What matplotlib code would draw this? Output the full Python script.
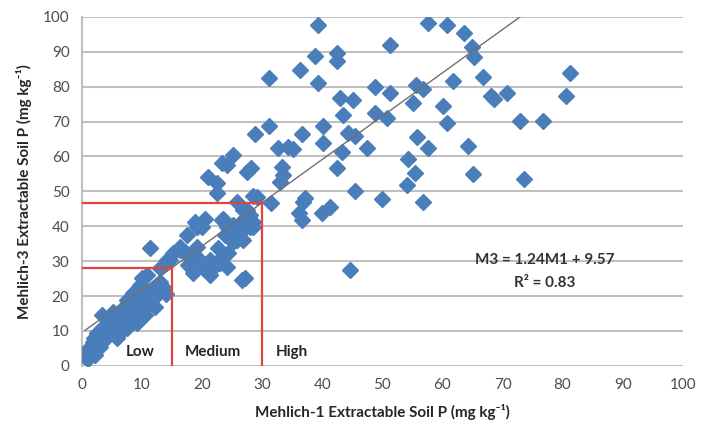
import matplotlib
matplotlib.use("Agg")
import matplotlib.pyplot as plt
import numpy as np

plt.rcParams['font.family'] = ['Lato', 'DejaVu Sans']

# Mehlich-1 (x) vs Mehlich-3 (y), mg/kg
m1 = [39.3, 38.8, 42.4, 42.4, 36.3, 31.1, 39.3, 42.9, 45.1, 48.8, 51.2, 43.4, 48.8, 50.7,
      31.1, 28.8, 36.6, 40.1, 44.3, 45.4, 32.6, 34.3, 35.1, 40.1, 43.3, 47.4, 42.4, 45.4,
      25.1, 23.3, 24.1, 27.5, 28.1, 33.3, 32.9, 33.4, 21.0, 22.5, 22.5, 49.9, 37.1, 36.8,
      31.4, 36.1, 36.6, 39.9, 41.3, 28.5, 27.5, 28.0, 25.8, 29.1, 44.6,
      55.6, 56.7, 51.2, 61.7, 66.7, 68.1, 68.6, 70.7, 55.1, 60.1, 60.7, 72.9, 76.7, 55.7,
      57.6, 64.2, 54.2, 55.4, 54.1, 65.1, 73.5, 56.7, 57.6, 60.7, 63.6, 64.9, 65.2, 81.2, 80.5,
      18.8, 20.5, 20.0, 23.5, 25.1, 26.8, 28.0, 27.1, 28.5, 11.3, 16.3, 14.6, 17.5, 19.1,
      17.6, 20.1, 21.3, 22.6, 24.3, 24.1, 25.8, 24.6, 23.3, 26.6, 26.8, 27.6, 28.5, 23.3,
      19.1, 24.1, 26.3, 26.8, 25.1, 23.8, 17.5, 16.3, 15.1, 14.1, 17.1, 19.1, 21.3, 21.8,
      23.0, 18.5, 27.1, 13.5,
      13.0, 10.8, 9.7, 11.6, 12.5, 13.5, 8.5, 7.5, 9.2, 10.0, 6.8, 5.2, 3.3, 4.3, 6.0, 3.5,
      2.5, 4.2, 5.2, 1.8, 3.0, 1.0, 0.5, 2.2, 6.8, 5.8, 13.0, 11.8, 10.0, 8.8, 7.7, 8.3,
      6.3, 5.8, 4.2, 3.0, 1.3, 0.8, 1.5, 2.5, 3.5, 4.5, 7.0, 8.0, 9.5, 11.0, 12.0, 14.0,
      2.0, 1.0, 6.0, 7.5, 9.2, 11.3, 10.5, 12.2]
m3 = [97.7, 88.8, 89.7, 87.4, 84.8, 82.5, 81.0, 76.8, 76.2, 80.0, 92.0, 71.9, 72.5, 71.0,
      68.8, 66.5, 66.5, 68.8, 66.8, 65.9, 62.5, 62.8, 62.2, 63.9, 61.3, 62.5, 56.7, 50.0,
      60.5, 58.0, 57.6, 55.6, 56.7, 57.0, 52.7, 54.7, 54.2, 52.4, 49.6, 47.8, 48.0, 47.0,
      46.7, 43.8, 41.8, 43.8, 45.6, 48.7, 44.7, 39.8, 47.0, 48.4, 27.5,
      80.5, 79.4, 78.2, 81.7, 82.8, 77.4, 76.5, 78.2, 75.4, 74.5, 69.6, 70.2, 70.2, 65.6,
      62.5, 63.0, 59.3, 55.3, 51.9, 55.0, 53.6, 47.0, 98.3, 97.7, 95.4, 91.4, 88.5, 84.0, 77.4,
      41.3, 42.1, 39.8, 42.1, 40.4, 41.8, 43.3, 39.5, 39.8, 33.8, 33.2, 30.4, 31.8, 34.1,
      28.9, 28.1, 26.1, 33.8, 32.4, 28.4, 36.1, 36.5, 31.2, 24.6, 44.7, 43.3, 41.3, 41.8,
      39.8, 39.8, 38.4, 36.1, 35.5, 37.5, 37.5, 34.1, 32.4, 30.4, 32.7, 31.2, 30.4, 28.1,
      29.5, 26.6, 25.2, 22.6,
      28.1, 26.1, 23.2, 21.8, 23.2, 22.3, 20.9, 18.9, 18.0, 20.5, 16.6, 15.5, 14.6, 13.8,
      12.6, 11.2, 9.5, 8.3, 10.3, 6.9, 5.4, 4.6, 2.6, 3.2, 10.3, 8.0, 24.1, 20.9, 25.2,
      20.9, 18.0, 15.2, 14.0, 11.2, 10.3, 8.3, 5.4, 4.0, 3.0, 6.0, 7.0, 9.0, 12.0, 13.5,
      16.0, 17.5, 19.5, 20.5, 8.0, 2.0, 9.5, 11.0, 12.3, 18.9, 14.5, 17.0]

slope, intercept = 1.24, 9.57
thresholds = [15, 30]
zone_labels = ['Low', 'Medium', 'High']
zone_label_x = [9.7, 21.8, 35.0]

fig = plt.figure(figsize=(7.01, 4.32), dpi=100)
ax = fig.add_axes([0.117, 0.153, 0.857, 0.808])

ax.plot(m1, m3, ls='none', marker='D', ms=8.3, color='#4a7ebb', mec='#4a7ebb', zorder=3)

xfit = np.linspace(min(m1), max(m1), 100)
ax.plot(xfit, slope * xfit + intercept, color='#707070', lw=1.0, zorder=4)

for t in thresholds:
    yt = slope * t + intercept
    ax.plot([t, t], [0, yt], color='#e0443c', lw=1.6, zorder=5)
    ax.plot([0, t], [yt, yt], color='#e0443c', lw=1.6, zorder=5)

for lab, xl in zip(zone_labels, zone_label_x):
    ax.text(xl, 4, lab, ha='center', va='center', fontsize=11, fontweight='bold', color='#262626')

ax.text(77, 30.4, 'M3 = 1.24M1 + 9.57', ha='center', va='center', fontsize=11,
        fontweight='bold', color='#333333')
ax.text(77, 23.8, 'R² = 0.83', ha='center', va='center', fontsize=11,
        fontweight='bold', color='#333333')

ax.set_xlim(0, 100)
ax.set_ylim(0, 100)
ax.set_xticks(range(0, 101, 10))
ax.set_yticks(range(0, 101, 10))
ax.yaxis.grid(True, color='#c0c0c0', lw=1.5)
ax.set_axisbelow(True)
for s in ['top', 'right', 'bottom']:
    ax.spines[s].set_visible(False)
ax.spines['left'].set_color('#c0c0c0')
ax.spines['left'].set_linewidth(1.5)
ax.tick_params(length=0, labelsize=11, labelcolor='#4d4d4d', pad=9)

ax.set_xlabel('Mehlich-1 Extractable Soil P (mg kg⁻¹)', fontsize=11, fontweight='bold',
              color='#262626', labelpad=8)
ax.set_ylabel('Mehlich-3 Extractable Soil P (mg kg⁻¹)', fontsize=11, fontweight='bold',
              color='#262626', labelpad=8)

fig.savefig('out.png', dpi=100)
